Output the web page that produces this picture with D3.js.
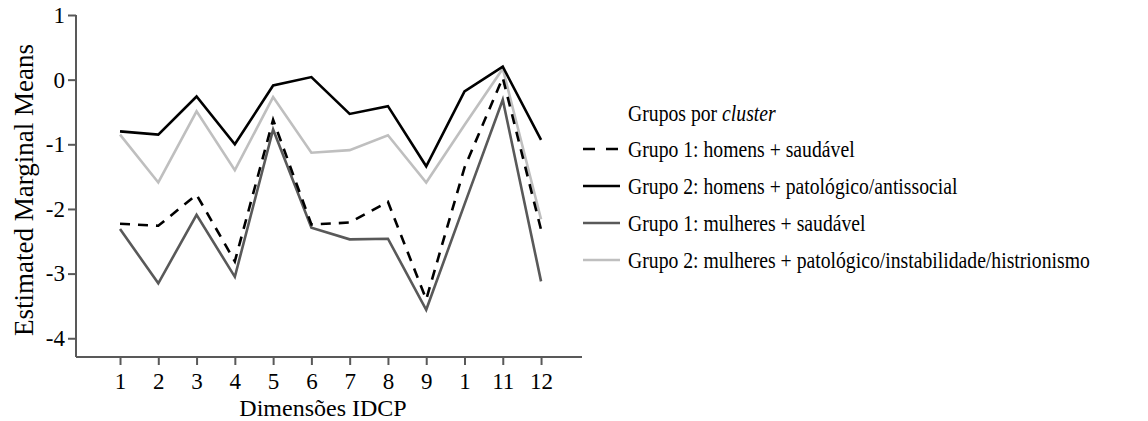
<!DOCTYPE html>
<html>
<head>
<meta charset="utf-8">
<script src="https://cdn.jsdelivr.net/npm/d3@7"></script>
<style>
  body { margin: 0; background: #fff; }
  svg text, svg tspan { font-family: 'Liberation Serif' !important; }
</style>
</head>
<body>
<svg id="chart" width="1148" height="421"></svg>
<script>
// dimensions on the x axis (10th label is printed as "1" in the original)
let dimLabels = ['1', '2', '3', '4', '5', '6', '7', '8', '9', '1', '11', '12'];
let dimIndex = [1, 2, 3, 4, 5, 6, 7, 8, 9, 10, 11, 12];
let yTicks = [1, 0, -1, -2, -3, -4];

let g1Homens = [-2.23, -2.26, -1.78, -2.81, -0.62, -2.24, -2.21, -1.89, -3.40, -1.36, 0.03, -2.32];
let g2Homens = [-0.80, -0.85, -0.26, -1.00, -0.09, 0.04, -0.53, -0.41, -1.34, -0.18, 0.20, -0.93];
let g1Mulheres = [-2.31, -3.15, -2.09, -3.05, -0.77, -2.29, -2.47, -2.46, -3.56, -1.93, -0.31, -3.12];
let g2Mulheres = [-0.85, -1.59, -0.49, -1.40, -0.27, -1.13, -1.09, -0.86, -1.59, -0.70, 0.17, -2.16];

let seriesNames = [
    'Grupo 1: homens + saudável',
    'Grupo 2: homens + patológico/antissocial',
    'Grupo 1: mulheres + saudável',
    'Grupo 2: mulheres + patológico/instabilidade/histrionismo'
];
let seriesValues = [g1Homens, g2Homens, g1Mulheres, g2Mulheres];
let seriesColor = ['#000', '#000', '#595959', '#bfbfbf'];
let seriesDash = ['10,8', null, null, null];
let drawOrder = [3, 2, 0, 1];

var FONT = 'Liberation Serif';

function serif(sel, size) {
    return sel.attr('font-family', FONT)
        .style('font-family', FONT, 'important')
        .attr('font-size', size + 'px')
        .attr('fill', '#000');
}

var svg = d3.select('#chart').style('font-family', FONT, 'important');
var x = d3.scaleLinear().domain([-0.15, 13.07]).range([76, 582]);
var y = d3.scaleLinear().domain([-4.29, 1]).range([357, 15]);

// axes
var xAxis = svg.append('g').attr('transform', 'translate(0,357)')
    .call(d3.axisBottom(x).tickValues(dimIndex).tickSize(8).tickPadding(8)
        .tickFormat(function(d, i) { return dimLabels[i]; }));
var yAxis = svg.append('g').attr('transform', 'translate(76,0)')
    .call(d3.axisLeft(y).tickValues(yTicks).tickSize(8).tickPadding(3)
        .tickFormat(function(d) { return d; }));
[xAxis, yAxis].forEach(function(a) {
    a.attr('font-family', FONT).attr('font-size', 23);
    a.select('.domain').attr('stroke', '#595959').attr('stroke-width', 2);
    a.selectAll('.tick line').attr('stroke', '#595959').attr('stroke-width', 2);
    serif(a.selectAll('.tick text'), 23);
});
xAxis.select('.domain').attr('d', 'M76,0H582');
yAxis.select('.domain').attr('d', 'M0,15V357');

serif(svg.append('text'), 27)
    .attr('transform', 'translate(33,190) rotate(-90)')
    .attr('text-anchor', 'middle')
    .text('Estimated Marginal Means');
serif(svg.append('text'), 24)
    .attr('x', 323).attr('y', 416)
    .attr('text-anchor', 'middle')
    .text('Dimensões IDCP');

// lines
var line = d3.line()
    .x(function(d, i) { return x(dimIndex[i]); })
    .y(function(d) { return y(d); });

drawOrder.forEach(function(k) {
    svg.append('path')
        .datum(seriesValues[k])
        .attr('d', line)
        .attr('fill', 'none')
        .attr('stroke', seriesColor[k])
        .attr('stroke-width', 2.6)
        .attr('stroke-dasharray', seriesDash[k]);
});

// legend
var legend = svg.append('g').attr('transform', 'translate(583,0)');
var texts = legend.append('g').attr('class', 'legend-text');
var header = serif(texts.append('text'), 23).attr('x', 0).attr('y', 121);
header.append('tspan').text('Grupos por ');
header.append('tspan').attr('font-style', 'italic').text('cluster');

var rowY = function(i) { return 149 + i * 37; };
legend.selectAll('.sample')
    .data(seriesNames)
    .enter()
    .append('line')
    .attr('class', 'sample')
    .attr('x1', 0).attr('x2', 37)
    .attr('y1', function(d, i) { return rowY(i); })
    .attr('y2', function(d, i) { return rowY(i); })
    .attr('stroke', function(d, i) { return seriesColor[i]; })
    .attr('stroke-width', 2.6)
    .attr('stroke-dasharray', function(d, i) { return i === 0 ? '12,11' : null; });
serif(texts.selectAll('.row')
    .data(seriesNames)
    .enter()
    .append('text')
    .attr('class', 'row'), 23)
    .attr('x', 0)
    .attr('y', function(d, i) { return rowY(i) + 8; })
    .text(function(d) { return d; });

// the original legend type is narrow: squeeze it so the longest row is ~462px wide
var widest = d3.max(texts.selectAll('text').nodes(), function(n) { return n.getComputedTextLength(); });
texts.attr('transform', 'translate(45,0) scale(' + Math.min(1, 462 / widest) + ',1)');
</script>
</body>
</html>
